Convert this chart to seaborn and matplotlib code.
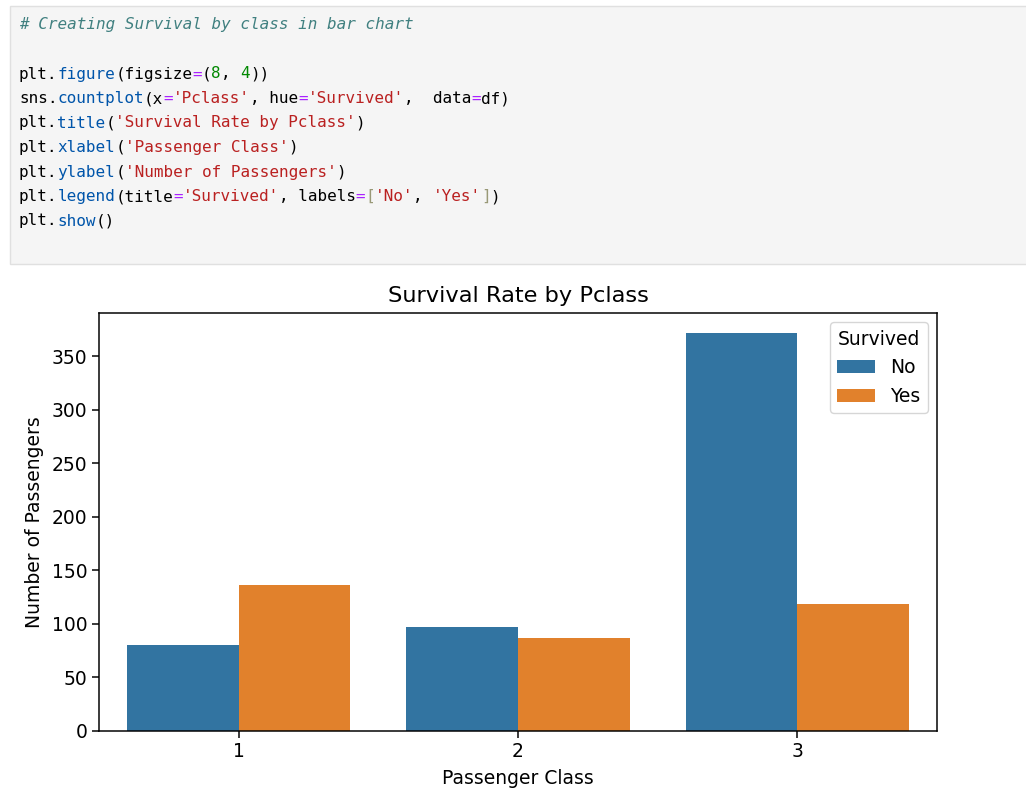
import matplotlib
matplotlib.use("Agg")
import matplotlib.pyplot as plt
from matplotlib.patches import Rectangle
import pandas as pd
import seaborn as sns

# data
pclass = [1, 1, 2, 2, 3, 3]
survived = ['No', 'Yes', 'No', 'Yes', 'No', 'Yes']
counts = [80, 136, 97, 87, 372, 119]

df = pd.DataFrame({'Pclass': pclass, 'Survived': survived, 'Count': counts})

W, H = 1026, 796
fig = plt.figure(figsize=(W / 100, H / 100), dpi=100)

# code cell shown above the chart
fig.patches.append(Rectangle((10 / W, 1 - 264 / H), 1.0, 258 / H,
                             transform=fig.transFigure, facecolor='#f5f5f5',
                             edgecolor='#e0e0e0', linewidth=1))

BLK, FN, OP, NUM, STR, BR, COM = '#000000', '#0055aa', '#aa22ff', '#008800', '#ba2121', '#999977', '#408080'
code_lines = [
    [("# Creating Survival by class in bar chart", COM)],
    [],
    [("plt.", BLK), ("figure", FN), ("(figsize", BLK), ("=", OP), ("(", BLK), ("8", NUM), (", ", BLK), ("4", NUM), ("))", BLK)],
    [("sns.", BLK), ("countplot", FN), ("(x", BLK), ("=", OP), ("'Pclass'", STR), (", hue", BLK), ("=", OP),
     ("'Survived'", STR), (",  data", BLK), ("=", OP), ("df)", BLK)],
    [("plt.", BLK), ("title", FN), ("(", BLK), ("'Survival Rate by Pclass'", STR), (")", BLK)],
    [("plt.", BLK), ("xlabel", FN), ("(", BLK), ("'Passenger Class'", STR), (")", BLK)],
    [("plt.", BLK), ("ylabel", FN), ("(", BLK), ("'Number of Passengers'", STR), (")", BLK)],
    [("plt.", BLK), ("legend", FN), ("(title", BLK), ("=", OP), ("'Survived'", STR), (", labels", BLK), ("=", OP),
     ("[", BR), ("'No'", STR), (", ", BLK), ("'Yes'", STR), ("]", BR), (")", BLK)],
    [("plt.", BLK), ("show", FN), ("()", BLK)],
]
charw = 9.62
for i, toks in enumerate(code_lines):
    y = 25 + 24.5 * i
    col = 0
    for txt, c in toks:
        fig.text((19 + col * charw) / W, 1 - y / H, txt, color=c, family='DejaVu Sans Mono',
                 fontsize=11.5, va='center', ha='left',
                 style='italic' if c == COM else 'normal')
        col += len(txt)

# chart
s = 1.35
ax = fig.add_axes([99 / W, 65 / H, 838 / W, 418 / H])
sns.barplot(data=df, x='Pclass', y='Count', hue='Survived', ax=ax)
ax.set_title('Survival Rate by Pclass', fontsize=12 * s, pad=6 * s)
ax.set_xlabel('Passenger Class', fontsize=10 * s, labelpad=4 * s)
ax.set_ylabel('Number of Passengers', fontsize=10 * s, labelpad=4 * s)
ax.tick_params(labelsize=10 * s, length=3.5 * s, width=0.8 * s)
for sp in ax.spines.values():
    sp.set_linewidth(0.8 * s)
ax.legend(title='Survived', fontsize=10 * s, title_fontsize=10 * s, loc='upper right')

fig.savefig('out.png', dpi=100)
